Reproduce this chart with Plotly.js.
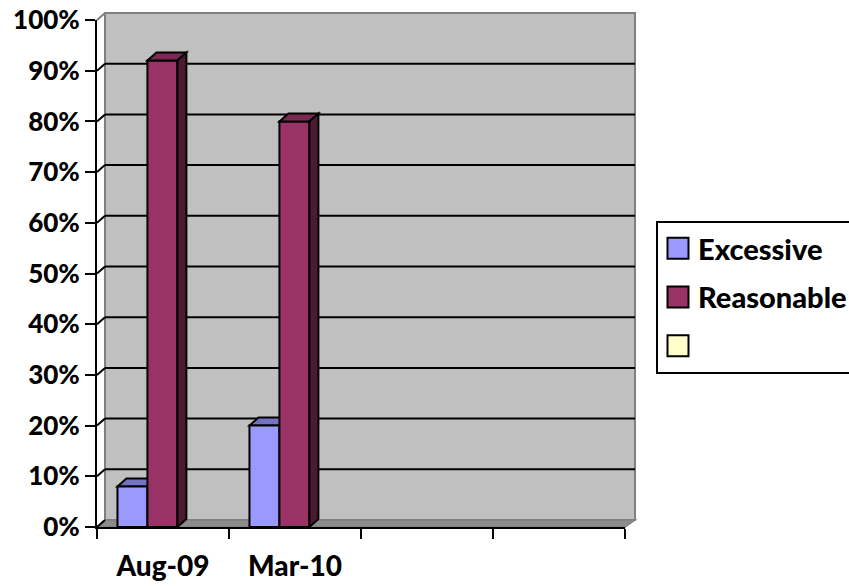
<!DOCTYPE html>
<html>
<head>
<meta charset="utf-8">
<script src="https://cdn.plot.ly/plotly-3.0.1.min.js"></script>
<style>html,body{margin:0;padding:0;background:#fff;}#chart{width:849px;height:586px;}</style>
</head>
<body>
<div id="chart"></div>
<script>
// ---- data ----
const categories = ['Aug-09', 'Mar-10'];
const slotLabels = ['Aug-09', 'Mar-10', ' ', '  '];
const excessive = [0.08, 0.20];
const reasonable = [0.92, 0.80];
const seriesNames = ['Excessive', 'Reasonable', ' '];
const yTickVals = [0, 0.1, 0.2, 0.3, 0.4, 0.5, 0.6, 0.7, 0.8, 0.9, 1.0];

// ---- style ----
const nSlots = slotLabels.length;
const barW = 0.227, off1 = -0.345, off2 = off1 + barW;
const plotW = 528, plotH = 507;
const slotPx = plotW / nSlots;
const bdx = 9 / slotPx, bdy = 8 / plotH;      // bar depth (data units)
const wdx = 8 / plotW, wdy = 7 / plotH;       // wall depth (paper units)
const wR = 1 + 10 / plotW;                    // wall right edge (paper)
const FAM = 'Lato, "Open Sans", sans-serif';
const W = 900;
const YFONT = {family: FAM, size: 26, color: '#000', weight: W};
const XFONT = {family: FAM, size: 28, color: '#000', weight: W};
const LFONT = {family: FAM, size: 29, color: '#000', weight: W};

function px(xd) { return (xd + 0.5) / nSlots; } // data x -> paper x
const shapes = [];
// back wall
shapes.push({type:'rect', xref:'paper', yref:'paper', x0:wdx, x1:wR, y0:wdy, y1:1+wdy,
  fillcolor:'#C0C0C0', line:{color:'#808080', width:2}, layer:'below'});
// floor
shapes.push({type:'path', xref:'paper', yref:'paper',
  path:`M0,0 L1,0 L${wR},${wdy} L${wdx},${wdy} Z`, fillcolor:'#8C8C8C', line:{color:'#808080', width:1.5}, layer:'below'});
// grid lines on wall + connectors on left wall
yTickVals.forEach(v => {
  if (v > 0 && v < 1) {
    shapes.push({type:'line', xref:'paper', yref:'paper', x0:wdx, x1:wR, y0:v+wdy, y1:v+wdy,
      line:{color:'#000', width:2}, layer:'below'});
  }
  shapes.push({type:'line', xref:'paper', yref:'paper', x0:0, x1:wdx, y0:v, y1:v+wdy,
    line:{color: (v === 1 ? '#808080' : '#000'), width:2}, layer:'below'});
});
// bar 3D faces
categories.forEach((c, i) => {
  let L = i + off1, R = L + barW, v = excessive[i];
  shapes.push({type:'path', xref:'paper', yref:'y',
    path:`M${px(L)},${v} L${px(R)},${v} L${px(R+bdx)},${v+bdy} L${px(L+bdx)},${v+bdy} Z`,
    fillcolor:'#7373C4', line:{color:'#000', width:2}, layer:'below'});
  L = i + off2; R = L + barW; v = reasonable[i];
  shapes.push({type:'path', xref:'paper', yref:'y',
    path:`M${px(L)},${v} L${px(R)},${v} L${px(R+bdx)},${v+bdy} L${px(L+bdx)},${v+bdy} Z`,
    fillcolor:'#7A2952', line:{color:'#000', width:2}, layer:'above'});
  shapes.push({type:'path', xref:'paper', yref:'y',
    path:`M${px(R)},0 L${px(R)},${v} L${px(R+bdx)},${v+bdy} L${px(R+bdx)},${bdy} Z`,
    fillcolor:'#4D1A33', line:{color:'#000', width:2}, layer:'above'});
});

const traces = [
  {type:'bar', x:categories, y:excessive, name:seriesNames[0], offset:off1, width:barW, legendgroup:'a',
   marker:{color:'#9999FF', line:{color:'#000', width:2}}, hoverinfo:'skip'},
  {type:'bar', x:categories, y:reasonable, name:seriesNames[1], offset:off2, width:barW, legendgroup:'b',
   marker:{color:'#993366', line:{color:'#000', width:2}}, hoverinfo:'skip'},
  {type:'bar', x:categories, y:[null, null], name:seriesNames[2], offset:off2, width:barW, legendgroup:'c',
   marker:{color:'#FFFFCC', line:{color:'#000', width:2}}, hoverinfo:'skip'}
];

const layout = {
  width: 849, height: 586,
  margin: {l:97, r:224, t:20, b:59, autoexpand:false},
  paper_bgcolor: '#fff', plot_bgcolor: 'rgba(0,0,0,0)',
  font: YFONT,
  showlegend: true,
  legend: {x:1.0587, y:0.6036, xanchor:'left', yanchor:'top', bgcolor:'#fff', bordercolor:'#000', borderwidth:2,
    font: LFONT, tracegroupgap: 8, traceorder:'grouped'},
  xaxis: {type:'category', categoryorder:'array', categoryarray:slotLabels, range:[-0.5, nSlots - 0.5],
    tickson:'boundaries', ticks:'outside', ticklen:10, tickwidth:2, ticklabelstandoff:13,
    tickcolor:'#000', showline:true, linecolor:'#000', linewidth:2, showgrid:false, zeroline:false,
    tickfont: XFONT, fixedrange:true},
  yaxis: {range:[0, 1], tickvals:yTickVals, tickformat:'.0%', ticks:'outside', ticklen:10, tickwidth:2,
    tickcolor:'#000', showline:true, linecolor:'#000', linewidth:2, showgrid:false, zeroline:false,
    tickfont: YFONT, fixedrange:true},
  shapes: shapes,
  bargap: 0
};

Plotly.newPlot('chart', traces, layout, {staticPlot:true, displayModeBar:false}).then(() => {
  document.querySelectorAll('.legendpoints path').forEach(p => {
    p.setAttribute('d', 'M10.5,10.5H-10.5V-10.5H10.5Z');
  });
});
</script>
</body>
</html>
